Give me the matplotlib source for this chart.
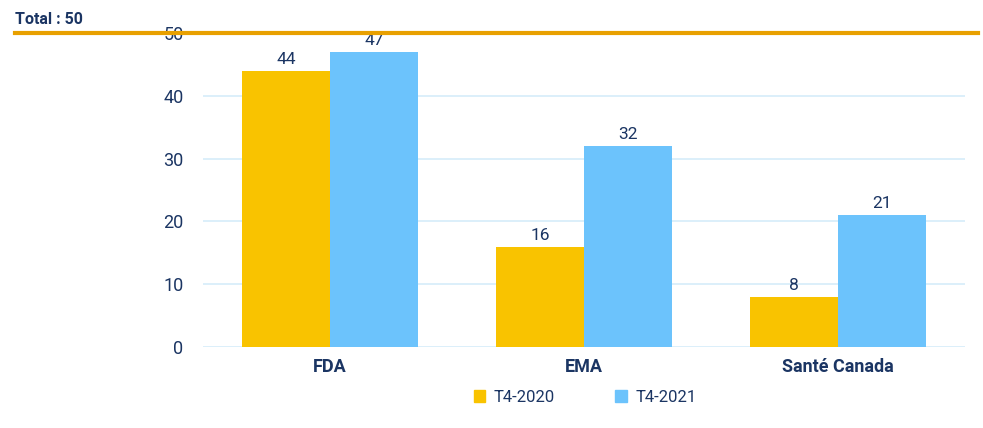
import matplotlib
matplotlib.use("Agg")
import matplotlib.pyplot as plt
import matplotlib.transforms as mtrans
from matplotlib.patches import Patch
import numpy as np

categories = ["FDA", "EMA", "Santé Canada"]
series_names = ["T4-2020", "T4-2021"]
values_2020 = [44, 16, 8]
values_2021 = [47, 32, 21]
total_value = 50
yticks = [0, 10, 20, 30, 40, 50]

navy = "#1B3563"
c2020 = "#F9C300"
c2021 = "#6CC3FC"
grid_c = "#D6ECFA"
line_c = "#E8A000"

plt.rcParams['font.family'] = ['Roboto', 'DejaVu Sans']

fig = plt.figure(figsize=(9.83, 4.28), dpi=100)
ax = fig.add_axes([203/983, 1-347/428, (965-203)/983, (347-33)/428])

x = np.arange(len(categories))
w = 0.347
b1 = ax.bar(x - w/2, values_2020, w, color=c2020, zorder=3)
b2 = ax.bar(x + w/2, values_2021, w, color=c2021, zorder=3)
for bars in (b1, b2):
    for r in bars:
        ax.text(r.get_x() + r.get_width()/2, r.get_height() + 0.6, f"{int(r.get_height())}",
                ha="center", va="bottom", fontsize=12.5, color=navy, zorder=4)

ax.set_xlim(-0.5, 2.5)
ax.set_ylim(0, 50)
ax.set_yticks(yticks)
ax.set_xticks(x)
ax.set_xticklabels(categories, fontsize=13, fontweight="bold", color=navy)
ax.tick_params(axis="y", length=0, pad=14, labelsize=13, labelcolor=navy)
ax.tick_params(axis="x", length=0, pad=8)
ax.grid(axis="y", color=grid_c, linewidth=1.2, zorder=0)
for s in ax.spines.values():
    s.set_visible(False)

# total line spanning the figure width
trans = mtrans.blended_transform_factory(fig.transFigure, ax.transData)
ax.plot([15/983, 978/983], [total_value, total_value], color=line_c, lw=3,
        transform=trans, clip_on=False, zorder=5)
fig.text(15/983, 1-19/428, f"Total : {total_value}", fontsize=11.5, fontweight="bold",
         color=navy, ha="left", va="center")

handles = [Patch(color=c2020, label=series_names[0]), Patch(color=c2021, label=series_names[1])]
fig.legend(handles=handles, loc="center", bbox_to_anchor=(585/983, 1-397/428), ncol=2,
           frameon=False, fontsize=12, handlelength=0.7, handleheight=0.7,
           columnspacing=3.6, handletextpad=0.5, labelcolor=navy)

fig.savefig("out.png", dpi=100)
